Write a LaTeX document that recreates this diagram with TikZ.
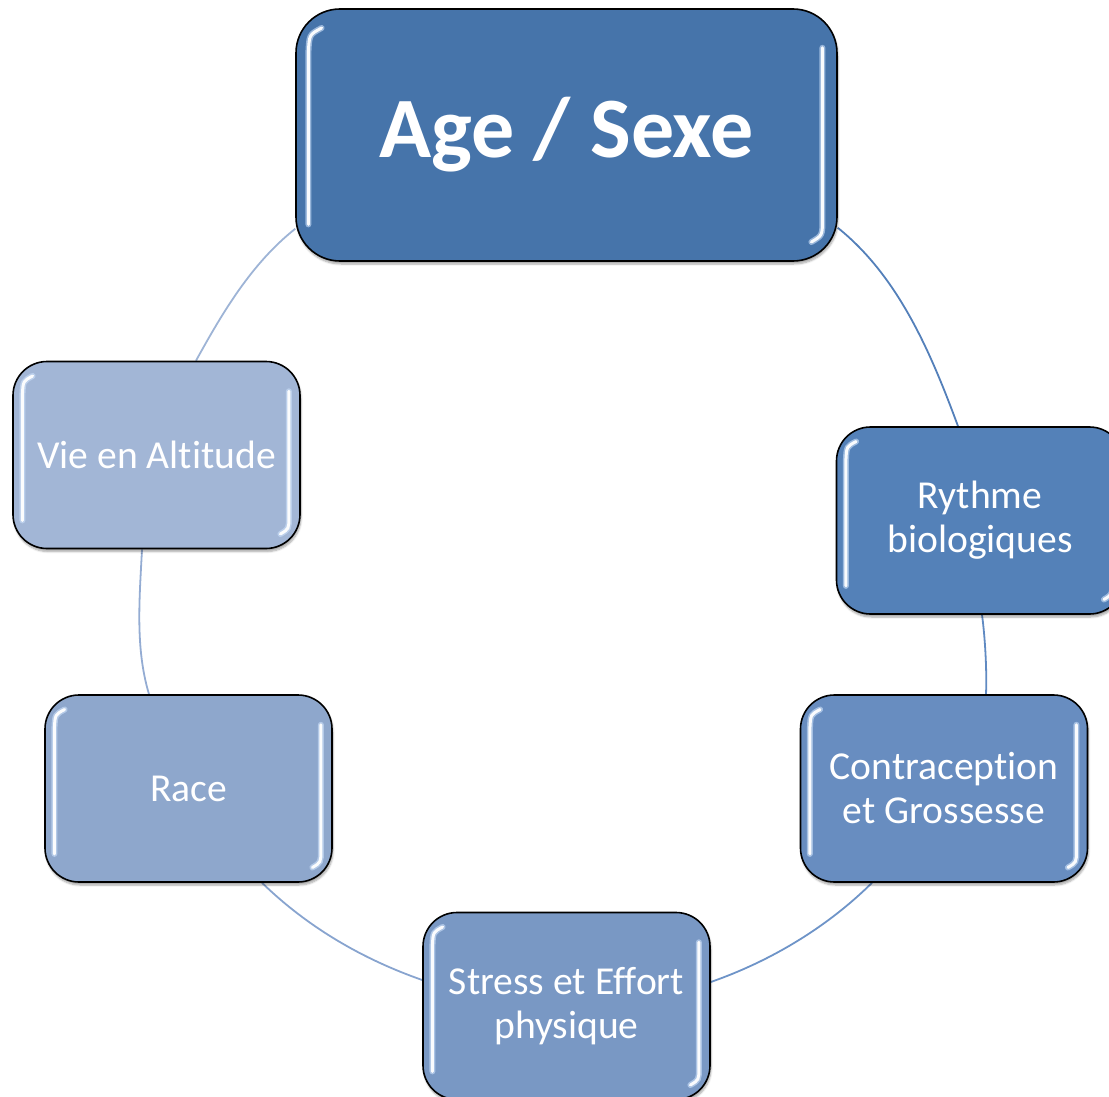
\documentclass[tikz,border=0pt]{standalone}
\usepackage{fontspec}
\setmainfont{Carlito}[Ligatures={NoCommon}]
\usetikzlibrary{calc,shadows.blur}
\pgfdeclarelayer{bg}
\pgfsetlayers{bg,main}
\definecolor{cAge}{RGB}{70,116,170}
\definecolor{cRyt}{RGB}{84,129,184}
\definecolor{cCon}{RGB}{104,141,192}
\definecolor{cStr}{RGB}{121,152,196}
\definecolor{cRac}{RGB}{142,167,204}
\definecolor{cVie}{RGB}{162,182,214}
\definecolor{aOne}{RGB}{84,128,186}
\definecolor{aTwo}{RGB}{96,138,194}
\definecolor{aThr}{RGB}{110,148,200}
\definecolor{aFou}{RGB}{136,164,207}
\definecolor{aFiv}{RGB}{148,172,211}
\definecolor{aSix}{RGB}{158,180,214}
\definecolor{hlblue}{RGB}{205,225,250}
\newcommand\glosshl[2]{%
  \draw[hlouter] ($(#1.north west)+(0.6*#2,0.45*#2)$) .. controls ($(#1.north west)+(0.32*#2,0.6*#2)$) .. ($(#1.north west)+(0.3*#2,#2)$) -- ($(#1.south west)+(0.3*#2,-0.85*#2)$);
  \draw[hlinner] ($(#1.north west)+(0.6*#2,0.45*#2)$) .. controls ($(#1.north west)+(0.32*#2,0.6*#2)$) .. ($(#1.north west)+(0.3*#2,#2)$) -- ($(#1.south west)+(0.3*#2,-0.85*#2)$);
  \draw[hlouter] ($(#1.north east)+(-0.35*#2,0.9*#2)$) -- ($(#1.south east)+(-0.35*#2,-0.95*#2)$) .. controls ($(#1.south east)+(-0.35*#2,-0.6*#2)$) .. ($(#1.south east)+(-0.6*#2,-0.45*#2)$);
  \draw[hlinner] ($(#1.north east)+(-0.35*#2,0.9*#2)$) -- ($(#1.south east)+(-0.35*#2,-0.95*#2)$) .. controls ($(#1.south east)+(-0.35*#2,-0.6*#2)$) .. ($(#1.south east)+(-0.6*#2,-0.45*#2)$);
}
\begin{document}
\begin{tikzpicture}[x=1pt,y=-1pt,
  box/.style={draw=black, line width=1.6pt, rounded corners=34pt, text=white, align=center,
    font=\fontsize{39.6}{44}\selectfont, inner sep=0pt,
    blur shadow={shadow xshift=1pt, shadow yshift=-3pt, shadow blur steps=6, shadow opacity=35}},
  smallbox/.style={box, minimum width=287pt, minimum height=187pt},
  conn/.style={line width=1.8pt},
  hlouter/.style={hlblue, line width=6pt, line cap=round, opacity=0.6},
  hlinner/.style={white, line width=3pt, line cap=round, opacity=0.95}
]
\useasboundingbox (0,0) rectangle (1109,1097);
\clip (0,0) rectangle (1109,1097);

\node[box, fill=cAge, minimum width=541pt, minimum height=252pt, rounded corners=44pt,
      font=\bfseries\fontsize{86}{90}\selectfont] (age) at (566.5,135) {Age / Sexe};
\node[smallbox, fill=cRyt] (ryt) at (980,520.5) {Rythme\\biologiques};
\node[smallbox, fill=cCon] (con) at (944,788.5) {Contraception\\et Grossesse};
\node[smallbox, fill=cStr] (str) at (566.5,1006) {Stress et Effort\\physique};
\node[smallbox, fill=cRac] (rac) at (188.5,788.5) {Race};
\node[smallbox, fill=cVie] (vie) at (156.5,455) {Vie en Altitude};

\glosshl{age}{44}
\glosshl{ryt}{34}
\glosshl{con}{34}
\glosshl{str}{34}
\glosshl{rac}{34}
\glosshl{vie}{34}

\coordinate (p1) at ($(age.south east)+(0,-34)$);
\coordinate (q1) at ($(ryt.north)+(-22,0)$);
\coordinate (p2) at ($(ryt.south)+(2,0)$);
\coordinate (q2) at ($(con.north)+(42,0)$);
\coordinate (p3) at ($(con.south)+(-72,0)$);
\coordinate (q3) at ($(str.east)+(0,-24)$);
\coordinate (p4) at ($(str.west)+(0,-26)$);
\coordinate (q4) at ($(rac.south)+(73.5,0)$);
\coordinate (p5) at ($(rac.north)+(-39.5,0)$);
\coordinate (q5) at ($(vie.south)+(-14.5,0)$);
\coordinate (p6) at ($(vie.north)+(39.5,0)$);
\coordinate (q6) at ($(age.south west)+(0,-33)$);

\begin{pgfonlayer}{bg}
\draw[conn, aOne] (p1) .. controls +(61,49) and +(-27,-73) .. (q1);
\draw[conn, aTwo] (p2) .. controls +(3,22) and +(1,-24) .. (q2);
\draw[conn, aThr] (p3) .. controls +(-45,44.5) and +(60,-21) .. (q3);
\draw[conn, aFou] (p4) .. controls +(-60,-21) and +(45.6,44.3) .. (q4);
\draw[conn, aFiv] (p5) .. controls +(-14,-46.6) and +(-2.4,48.5) .. (q5);
\draw[conn, aSix] (p6) .. controls +(27,-49) and +(-43.6,34.7) .. (q6);
\end{pgfonlayer}
\end{tikzpicture}
\end{document}
